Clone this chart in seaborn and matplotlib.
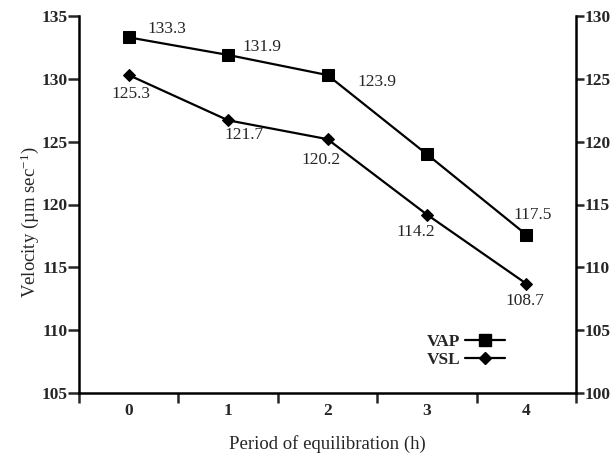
import matplotlib
matplotlib.use("Agg")
import matplotlib.pyplot as plt
from matplotlib.lines import Line2D
import seaborn as sns
import pandas as pd

hours = [0, 1, 2, 3, 4]
vap = [133.3, 131.9, 130.3, 124.0, 117.6]
vsl = [125.3, 121.7, 120.2, 114.2, 108.7]
vap_labels = ["133.3", "131.9", "123.9", None, "117.5"]
vsl_labels = ["125.3", "121.7", "120.2", "114.2", "108.7"]
left_ticks = [105, 110, 115, 120, 125, 130, 135]
right_ticks = [100, 105, 110, 115, 120, 125, 130]

sns.set_theme(style="ticks")
plt.rcParams["font.family"] = ["Liberation Serif", "DejaVu Serif"]
plt.rcParams["mathtext.fontset"] = "custom"
plt.rcParams["mathtext.rm"] = "Liberation Serif"
plt.rcParams["mathtext.it"] = "Liberation Serif:italic"

fig = plt.figure(figsize=(6.15, 4.55), dpi=100)
ax = fig.add_axes([79/615, 1-393/455, (576-79)/615, (393-16)/455])
ax2 = ax.twinx()

df = pd.DataFrame({"h": hours, "VAP": vap, "VSL": vsl})
sns.lineplot(data=df, x="h", y="VAP", ax=ax, color="black", marker="s",
             markersize=8, linewidth=1.6, markeredgecolor="black")
sns.lineplot(data=df, x="h", y="VSL", ax=ax2, color="black", marker="D",
             markersize=6.5, linewidth=1.6, markeredgecolor="black")

ax.set_xlim(-0.5, 4.5)
ax.set_ylim(105, 135)
ax2.set_ylim(100, 130)
ax.set_yticks(left_ticks)
ax2.set_yticks(right_ticks)
ax.set_xticks(hours)
ax.set_xticks([h - 0.5 for h in hours] + [4.5], minor=True)
ax.tick_params(axis="x", which="major", length=0, pad=7, labelsize=12.5)
ax.tick_params(axis="x", which="minor", length=7, width=1.8, direction="out")
ax.tick_params(axis="y", length=8, width=1.8, pad=0, labelsize=12.5)
ax2.tick_params(axis="y", length=6, width=1.8, pad=0, labelsize=12.5)
for lab in ax.get_xticklabels() + ax.get_yticklabels() + ax2.get_yticklabels():
    lab.set_fontweight("bold")

for a in (ax, ax2):
    a.spines["top"].set_visible(False)
    for s in ("left", "bottom", "right"):
        a.spines[s].set_linewidth(1.8)
        a.spines[s].set_color("black")
ax.spines["right"].set_visible(False)
ax2.spines["left"].set_visible(False)
ax2.spines["bottom"].set_visible(False)

ax.set_xlabel("Period of equilibration (h)", fontsize=13.5, labelpad=12)
ax.set_ylabel("Velocity (\u00b5m sec$^{-1}$)", fontsize=13.5)
ax.yaxis.set_label_coords(-0.077, 0.454)
ax2.set_ylabel("")

vap_off = [(38, 8), (34, 8), (49, -7), None, (6, 20)]
vsl_off = [(2, -19), (16, -15), (-6, -21), (-11, -17), (-1, -17)]
for i, h in enumerate(hours):
    if vap_labels[i] is not None:
        ax.annotate(vap_labels[i], (h, vap[i]), xytext=vap_off[i],
                    textcoords="offset pixels", ha="center", va="center",
                    fontsize=12.5)
    ax2.annotate(vsl_labels[i], (h, vsl[i]), xytext=vsl_off[i],
                 textcoords="offset pixels", ha="center", va="center",
                 fontsize=12.5)

handles = [Line2D([], [], color="black", marker="s", markersize=8, linewidth=1.6),
           Line2D([], [], color="black", marker="D", markersize=6.5, linewidth=1.6)]
leg = ax2.legend(handles, ["VAP", "VSL"], loc="center", bbox_to_anchor=(466/615, 1-351/455),
                 bbox_transform=fig.transFigure, frameon=False, markerfirst=False,
                 fontsize=12.5, handlelength=2.3, handletextpad=0.3, labelspacing=0.15,
                 borderpad=0)
for t in leg.get_texts():
    t.set_fontweight("bold")

fig.savefig("out.png", dpi=100)
